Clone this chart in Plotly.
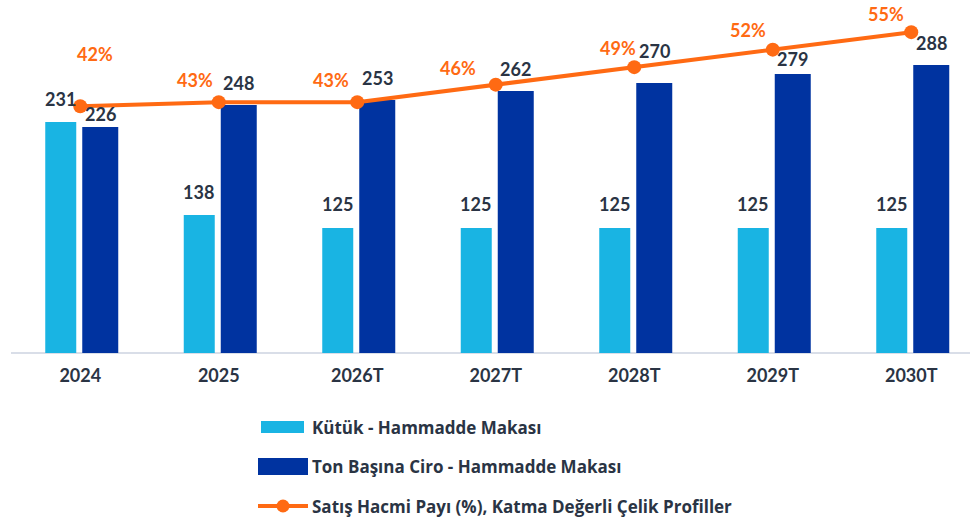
import plotly.graph_objects as go

# ---- data ----
categories = ["2024", "2025", "2026T", "2027T", "2028T", "2029T", "2030T"]
kutuk_makasi = [231, 138, 125, 125, 125, 125, 125]
ciro_makasi = [226, 248, 253, 262, 270, 279, 288]
satis_payi = [42.3, 43, 43, 46, 49, 52, 55]

series_names = [
    "Kütük - Hammadde Makası",
    "Ton Başına Ciro - Hammadde Makası",
    "Satış Hacmi Payı (%), Katma Değerli Çelik Profiller",
]

# ---- style ----
LIGHT = "#19B4E3"
DARK = "#0033A0"
ORANGE = "#FF6A13"
TEXT = "#2A3444"
FONT = "Lato"
LEG_FONT = "Open Sans"

W, H = 970, 520
ML, MR, MT, MB = 11, 1, 3, 167
plot_w = W - ML - MR
plot_h = H - MT - MB
x_range = [-0.5, 6.417]
cat_px = plot_w / (x_range[1] - x_range[0])

# label placement tweaks (pixels)
light_label_dy = [23, 23, 24, 24, 24, 24, 24]
dark_label_dy = [13, 22, 22, 22, 32, 15, 22]
pct_label_dx = [15, -24, -26, -38, -16, -25, -25]
pct_label_dy = [52, 22, 22, 17, 19, 20, 18]


def px(X):
    return (X - ML) / plot_w


def py(Y):
    return (MT + plot_h - Y) / plot_h


fig = go.Figure()
fig.add_trace(go.Bar(
    x=categories, y=kutuk_makasi, name=series_names[0],
    marker=dict(color=LIGHT, line=dict(width=0)),
    offset=-35 / cat_px, width=31 / cat_px, showlegend=False,
))
fig.add_trace(go.Bar(
    x=categories, y=ciro_makasi, name=series_names[1],
    marker=dict(color=DARK, line=dict(width=0)),
    offset=2 / cat_px, width=36 / cat_px, showlegend=False,
))
fig.add_trace(go.Scatter(
    x=categories, y=satis_payi, name=series_names[2], yaxis="y2",
    mode="lines+markers",
    line=dict(color=ORANGE, width=4),
    marker=dict(color=ORANGE, size=14),
    cliponaxis=False, showlegend=False,
))

annotations = []
for i, c in enumerate(categories):
    annotations.append(dict(
        x=i, y=kutuk_makasi[i], xref="x", yref="y", text=f"<b>{kutuk_makasi[i]}</b>",
        showarrow=False, xshift=-20, yshift=light_label_dy[i], yanchor="middle",
        font=dict(family=FONT, size=18, color=TEXT),
    ))
    annotations.append(dict(
        x=i, y=ciro_makasi[i], xref="x", yref="y", text=f"<b>{ciro_makasi[i]}</b>",
        showarrow=False, xshift=20, yshift=dark_label_dy[i], yanchor="middle",
        font=dict(family=FONT, size=18, color=TEXT),
    ))
    annotations.append(dict(
        x=i, y=satis_payi[i], xref="x", yref="y2", text=f"<b>{satis_payi[i]:.0f}%</b>",
        showarrow=False, xshift=pct_label_dx[i], yshift=pct_label_dy[i], yanchor="middle",
        font=dict(family=FONT, size=18, color=ORANGE),
    ))

# manual legend
shapes = [
    dict(type="line", xref="paper", yref="paper", x0=0, x1=1.02, y0=0, y1=0,
         line=dict(color="#D9DEE8", width=2), layer="below"),
    dict(type="rect", xref="paper", yref="paper", x0=px(261), x1=px(304), y0=py(421), y1=py(433),
         fillcolor=LIGHT, line=dict(width=0)),
    dict(type="rect", xref="paper", yref="paper", x0=px(258), x1=px(308), y0=py(458), y1=py(475),
         fillcolor=DARK, line=dict(width=0)),
    dict(type="line", xref="paper", yref="paper", x0=px(258), x1=px(308), y0=py(506), y1=py(506),
         line=dict(color=ORANGE, width=4)),
    dict(type="circle", xref="paper", yref="paper", x0=px(276.5), x1=px(289.5), y0=py(499.5), y1=py(512.5),
         fillcolor=ORANGE, line=dict(width=0)),
]
for name, yy in zip(series_names, [427, 467, 506]):
    annotations.append(dict(
        x=px(310), y=py(yy), xref="paper", yref="paper", xanchor="left", yanchor="middle",
        text=f"<b>{name}</b>", showarrow=False,
        font=dict(family=LEG_FONT, size=17, color=TEXT),
    ))

fig.update_layout(
    width=W, height=H,
    margin=dict(l=ML, r=MR, t=MT, b=MB),
    paper_bgcolor="white", plot_bgcolor="white",
    barmode="overlay",
    showlegend=False,
    hovermode=False,
    xaxis=dict(type="category", range=x_range, showgrid=False, zeroline=False, showline=False,
               ticks="", tickfont=dict(family=FONT, size=18, color=TEXT),
               ticklabelstandoff=10),
    yaxis=dict(range=[0, 350], visible=False, showgrid=False, zeroline=False),
    yaxis2=dict(range=[0, 60], overlaying="y", visible=False, showgrid=False, zeroline=False),
    annotations=annotations,
    shapes=shapes,
)
fig.update_xaxes(tickvals=categories, ticktext=[f"<b>{c}</b>" for c in categories])

fig.write_html(
    "out.html",
    config={"displayModeBar": False},
    post_script="document.body.style.margin='0';document.body.style.overflow='hidden';",
)
